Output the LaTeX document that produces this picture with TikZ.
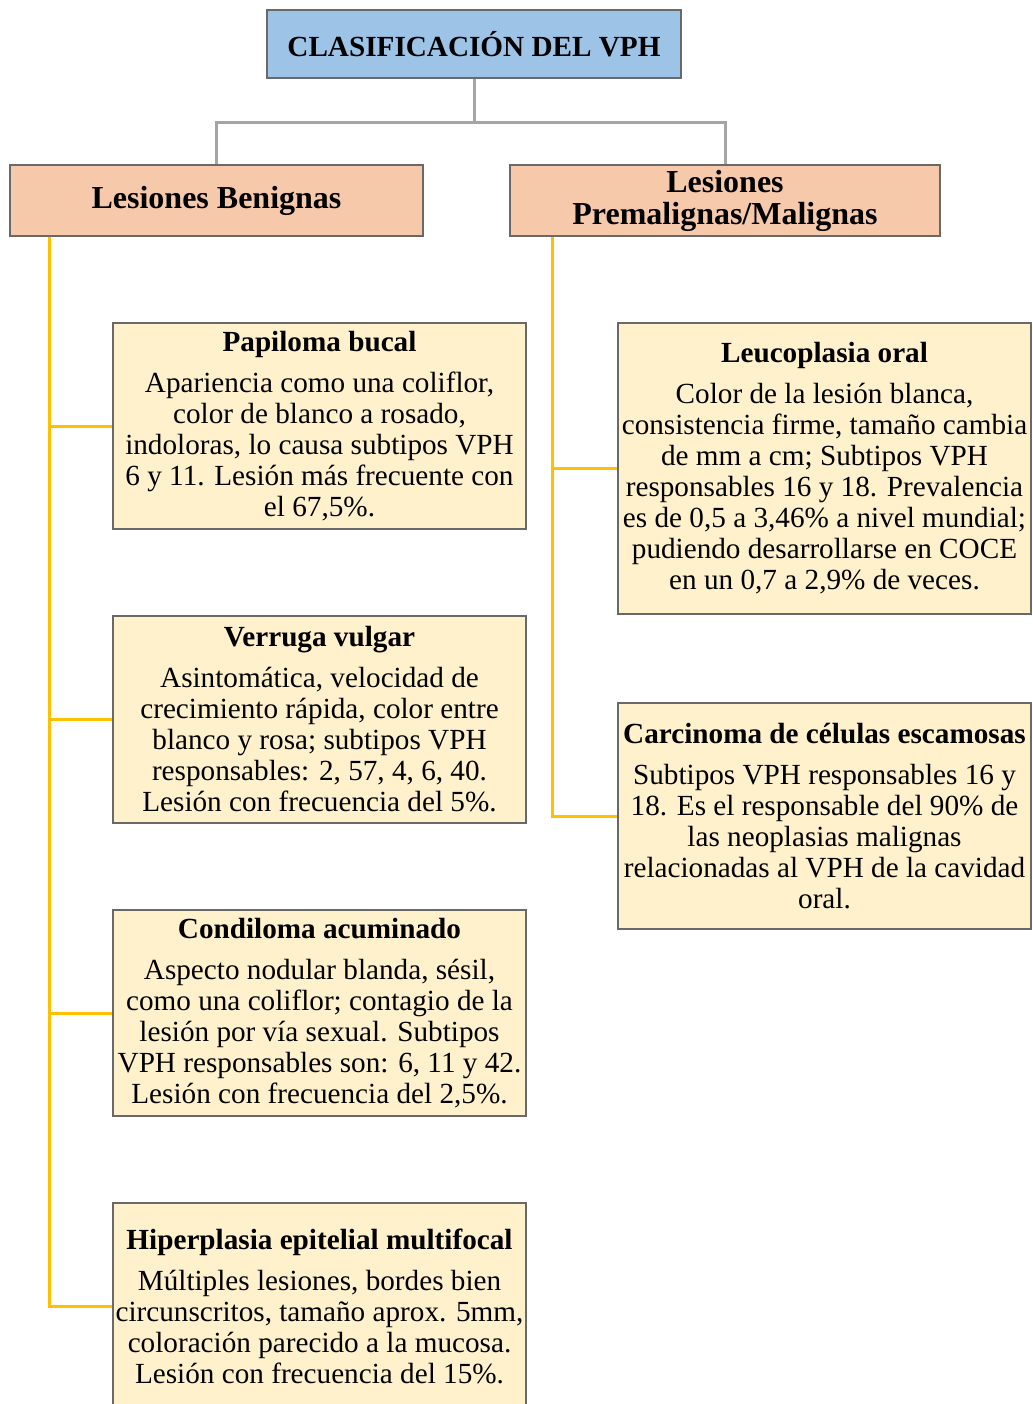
\documentclass[tikz,border=0pt]{standalone}
\usepackage{fontspec}
\setmainfont{Liberation Serif}
\usetikzlibrary{calc}
\definecolor{vblue}{RGB}{157,195,230}
\definecolor{vpeach}{RGB}{246,201,170}
\definecolor{vcream}{RGB}{255,241,204}
\definecolor{vyellow}{RGB}{255,192,0}
\definecolor{vgray}{RGB}{165,165,165}
\definecolor{vborder}{RGB}{105,105,105}

\begin{document}
\begin{tikzpicture}[x=0.5pt, y=-0.5pt,
    box/.style={draw=vborder, line width=0.6pt, align=center, inner sep=1pt},
    titlebox/.style={box, fill=vblue, minimum width=207pt, minimum height=34pt, font=\fontsize{14.6}{16}\selectfont\bfseries},
    groupbox/.style={box, fill=vpeach, minimum height=35.5pt, font=\fontsize{16}{16}\selectfont\bfseries},
    lesion/.style={box, fill=vcream, minimum width=206.5pt, font=\fontsize{14.6}{15.5}\selectfont},
    tree/.style={vgray, line width=1.5pt},
    branch/.style={vyellow, line width=1.5pt},
]
\useasboundingbox (0,0) rectangle (1033,1404);

\node[titlebox] (title) at (474,44) {CLASIFICACIÓN DEL VPH};
\node[groupbox, minimum width=206.5pt] (benign) at (216.5,200.5) {Lesiones Benignas};
\node[groupbox, minimum width=215pt] (malign) at (725,200.5) {Lesiones\\Premalignas/Malignas};

\node[lesion, minimum height=103pt] (pap) at (319.5,426) {{\bfseries Papiloma bucal}\\[5pt]
  Apariencia como una coliflor,\\color de blanco a rosado,\\indoloras, lo causa subtipos VPH\\6 y 11. Lesión más frecuente con\\el 67,5\%.};
\node[lesion, minimum height=103.5pt] (ver) at (319.5,719.5) {{\bfseries Verruga vulgar}\\[5pt]
  Asintomática, velocidad de\\crecimiento rápida, color entre\\blanco y rosa; subtipos VPH\\responsables: 2, 57, 4, 6, 40.\\Lesión con frecuencia del 5\%.};
\node[lesion, minimum height=103pt] (con) at (319.5,1013) {{\bfseries Condiloma acuminado}\\[5pt]
  Aspecto nodular blanda, sésil,\\como una coliflor; contagio de la\\lesión por vía sexual. Subtipos\\VPH responsables son: 6, 11 y 42.\\Lesión con frecuencia del 2,5\%.};
\node[lesion, minimum height=103pt] (hip) at (319.5,1306) {{\bfseries Hiperplasia epitelial multifocal}\\[5pt]
  Múltiples lesiones, bordes bien\\circunscritos, tamaño aprox. 5mm,\\coloración parecido a la mucosa.\\Lesión con frecuencia del 15\%.};

\node[lesion, minimum height=145.5pt] (leu) at (824.5,468.5) {{\bfseries Leucoplasia oral}\\[5pt]
  Color de la lesión blanca,\\consistencia firme, tamaño cambia\\de mm a cm; Subtipos VPH\\responsables 16 y 18. Prevalencia\\es de 0,5 a 3,46\% a nivel mundial;\\pudiendo desarrollarse en COCE\\en un 0,7 a 2,9\% de veces.};
\node[lesion, minimum height=113pt] (car) at (824.5,816) {{\bfseries Carcinoma de células escamosas}\\[5pt]
  Subtipos VPH responsables 16 y\\18. Es el responsable del 90\% de\\las neoplasias malignas\\relacionadas al VPH de la cavidad\\oral.};

\coordinate (fork) at ($(title.south)+(0,44)$);
\draw[tree] (title.south) -- (fork);
\draw[tree] (fork) -| (benign.north);
\draw[tree] (fork) -| (malign.north);

\coordinate (bstem) at ($(benign.south west)+(40,0)$);
\coordinate (mstem) at ($(malign.south west)+(43,0)$);
\foreach \n in {pap,ver,con,hip}
  \draw[branch] (bstem) |- (\n.west);
\foreach \n in {leu,car}
  \draw[branch] (mstem) |- (\n.west);
\end{tikzpicture}
\end{document}
